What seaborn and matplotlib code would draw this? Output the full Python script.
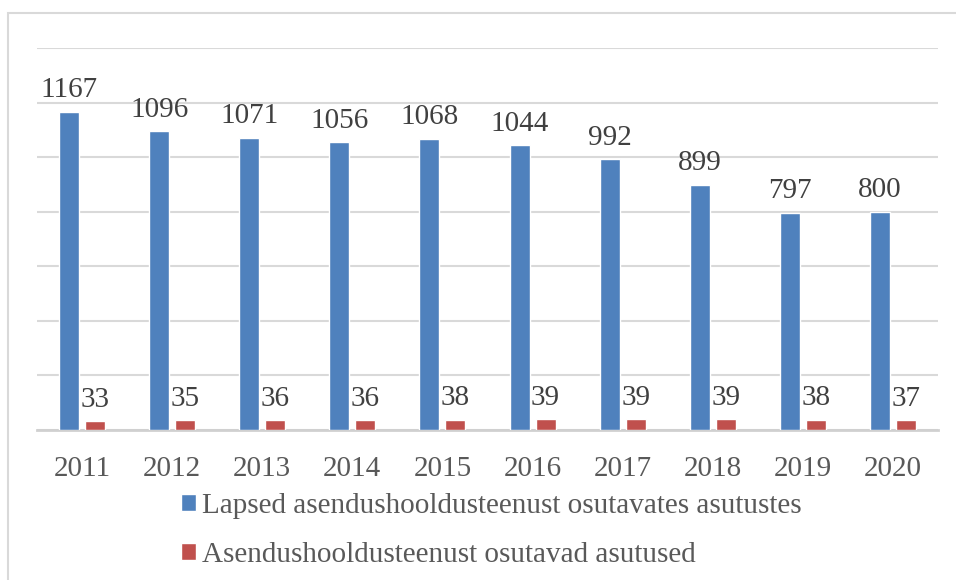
import matplotlib
matplotlib.use("Agg")
import matplotlib.pyplot as plt
import seaborn as sns
import pandas as pd
from matplotlib.patches import Rectangle

years = ["2011", "2012", "2013", "2014", "2015", "2016", "2017", "2018", "2019", "2020"]
children = [1167, 1096, 1071, 1056, 1068, 1044, 992, 899, 797, 800]
institutions = [33, 35, 36, 36, 38, 39, 39, 39, 38, 37]
series_names = ["Lapsed asendushooldusteenust osutavates asutustes",
                "Asendushooldusteenust osutavad asutused"]

df = pd.DataFrame({
    "year": years * 2,
    "value": children + institutions,
    "series": [series_names[0]] * len(years) + [series_names[1]] * len(years),
})

sns.set_theme(style="white")
plt.rcParams["font.family"] = ["Liberation Serif", "DejaVu Serif"]

FS = 21

fig = plt.figure(figsize=(9.56, 5.8), dpi=100)
ax = fig.add_axes([37 / 956, 1 - 430 / 580, (938 - 37) / 956, (430 - 48) / 580])

sns.barplot(data=df, x="year", y="value", hue="series", ax=ax,
            palette=["#4f81bd", "#c0504d"], width=0.578, gap=0.23,
            saturation=1, legend=True, zorder=3)

ax.set_ylim(0, 1400)
ax.set_yticks(range(0, 1401, 200))
ax.yaxis.grid(True, color="#d9d9d9", linewidth=1.5, zorder=0)
ax.set_axisbelow(True)
ax.set_yticklabels([])
ax.tick_params(axis="y", length=0)
ax.tick_params(axis="x", length=0, pad=19, labelsize=FS, labelcolor="#595959")
ax.set_xlabel("")
ax.set_ylabel("")
for s in ["top", "right", "left"]:
    ax.spines[s].set_visible(False)
ax.spines["bottom"].set_color("#d0d0d0")
ax.spines["bottom"].set_linewidth(2)

for cont in ax.containers:
    ax.bar_label(cont, padding=6, fontsize=FS, color="#404040")

handles, labels = ax.get_legend_handles_labels()
ax.get_legend().remove()
fig.legend(handles, labels, loc="upper left", bbox_to_anchor=(181 / 956, 1 - 493 / 580),
           frameon=False, fontsize=FS, labelcolor="#595959",
           handlelength=0.52, handleheight=0.52, handletextpad=0.2,
           labelspacing=0.78, borderpad=0, borderaxespad=0)

fig.patches.append(Rectangle((8 / 956, -0.05), 1.2, 1 - 13 / 580 + 0.05,
                             transform=fig.transFigure, fill=False,
                             edgecolor="#d9d9d9", linewidth=1.5))

fig.savefig("out.png", dpi=100)
